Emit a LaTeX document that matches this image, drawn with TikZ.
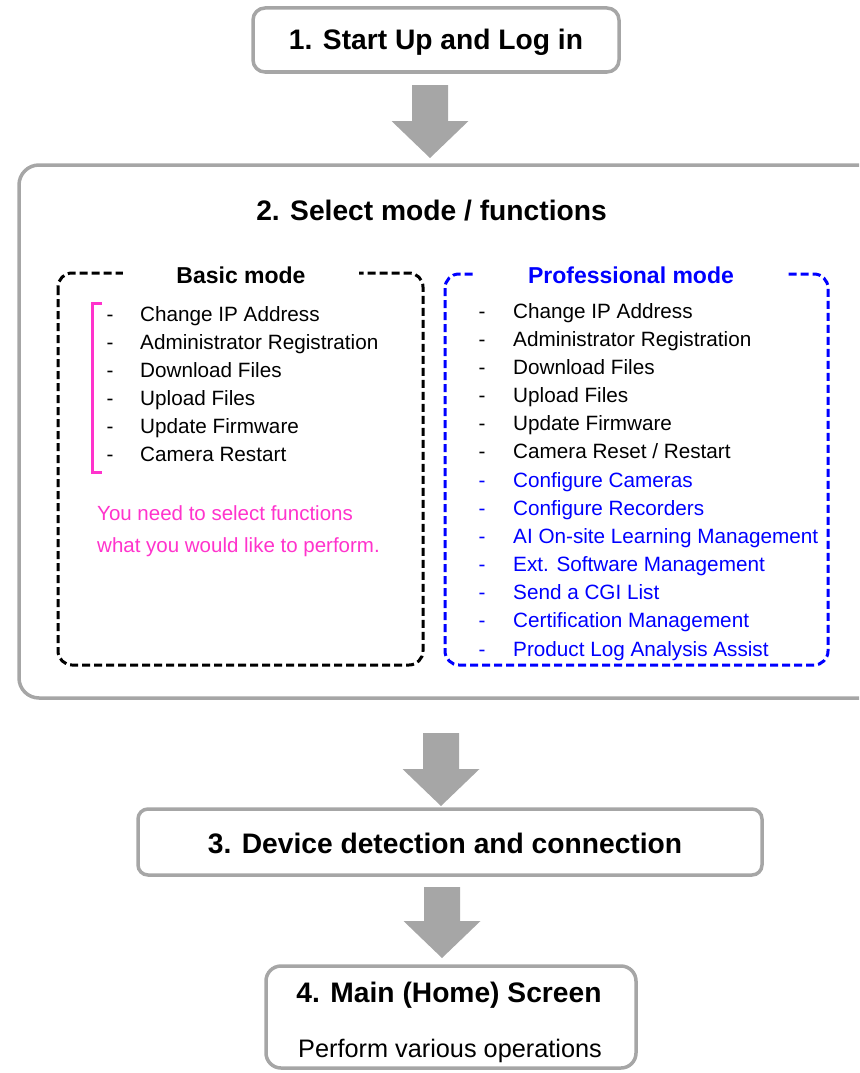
\documentclass[tikz,border=0pt]{standalone}
\usepackage{fontspec}
\setmainfont{Liberation Sans}
\definecolor{boxgray}{HTML}{A6A6A6}
\definecolor{arrowgray}{HTML}{A6A6A6}
\definecolor{problue}{HTML}{0000FF}
\definecolor{pinkish}{HTML}{FF33CC}
\newcommand\blockarrow[3]{\fill[arrowgray] ({#1-18},#2) -- ({#1+18},#2) -- ({#1+18},{#3-37}) -- ({#1+38.5},{#3-37}) -- (#1,#3) -- ({#1-38.5},{#3-37}) -- ({#1-18},{#3-37}) -- cycle;}
\begin{document}
\begin{tikzpicture}[x=1pt,y=-1pt,
  graybox/.style={draw=boxgray, line width=3.5pt, fill=white, inner sep=0pt},
  hdr/.style={font=\fontsize{28.2}{34}\selectfont\bfseries, anchor=base, inner sep=0pt},
  sub/.style={font=\fontsize{25.3}{30}\selectfont, anchor=base, inner sep=0pt},
  item/.style={font=\fontsize{20.7}{25}\selectfont, anchor=base west, inner sep=0pt},
  bullet/.style={font=\fontsize{20.7}{25}\selectfont, anchor=base, inner sep=0pt},
  note/.style={font=\fontsize{20.5}{25}\selectfont, anchor=base west, inner sep=0pt, text=pinkish},
  modetitle/.style={font=\fontsize{23}{28}\selectfont\bfseries, anchor=base, fill=white, inner xsep=53pt, inner ysep=4pt},
  dbox/.style={line width=3pt, dash pattern=on 8pt off 4pt, rounded corners=14pt}
]
\useasboundingbox (0,0) rectangle (859,1073);
\clip (0,0) rectangle (859,1073);

% Box 1
\node[graybox, rounded corners=12pt, minimum width=366pt, minimum height=64pt] (b1) at (436,40) {};
\node[hdr] (t1) at (436,50) {1. Start Up and Log in};

% Arrow 1
\blockarrow{430}{85}{158}

% Box 2
\node[graybox, rounded corners=20pt, minimum width=861pt, minimum height=533pt] (b2) at (449.5,431.5) {};
\node[hdr] (t2) at (431.5,220) {2. Select mode / functions};

% Basic mode box
\draw[dbox, black] (58,273) rectangle (423,665);
\node[modetitle] (basic) at (241,283) {Basic mode};
\draw[pinkish, line width=3pt] (102,303) -- (92,303) -- (92,472) -- (102,472);
\foreach \t [count=\i from 0] in {Change IP Address, Administrator Registration, Download Files, Upload Files, Update Firmware, Camera Restart}{
  \node[bullet] (bd\i) at (110,{321.5+28*\i}) {-};
  \node[item] (bi\i) at (140,{321.5+28*\i}) {\t};
}
\node[note] (n1) at (97,520) {You need to select functions};
\node[note] (n2) at (97,552) {what you would like to perform.};

% Professional mode box
\draw[dbox, problue] (445,274) rectangle (828,665);
\node[modetitle, text=problue] (pro) at (631,283) {Professional mode};
\foreach \t [count=\i from 0] in {Change IP Address, Administrator Registration, Download Files, Upload Files, Update Firmware, Camera Reset / Restart}{
  \node[bullet] (pd\i) at (482,{318+28.17*\i}) {-};
  \node[item] (pi\i) at (513,{318+28.17*\i}) {\t};
}
\foreach \t [count=\i from 6] in {Configure Cameras, Configure Recorders, AI On-site Learning Management, Ext. Software Management, Send a CGI List, Certification Management, Product Log Analysis Assist}{
  \node[bullet, text=problue] (pd\i) at (482,{318+28.17*\i}) {-};
  \node[item, text=problue] (pi\i) at (513,{318+28.17*\i}) {\t};
}

% Arrow 2
\blockarrow{441}{733}{806}

% Box 3
\node[graybox, rounded corners=10pt, minimum width=624pt, minimum height=66pt] (b3) at (450,842) {};
\node[hdr] (t3) at (445,853) {3. Device detection and connection};

% Arrow 3
\blockarrow{442}{887}{958}

% Box 4
\node[graybox, rounded corners=15pt, minimum width=370pt, minimum height=102pt] (b4) at (451,1017) {};
\node[hdr] (t4) at (449,1002) {4. Main (Home) Screen};
\node[sub] (s4) at (450,1057) {Perform various operations};
\end{tikzpicture}
\end{document}
